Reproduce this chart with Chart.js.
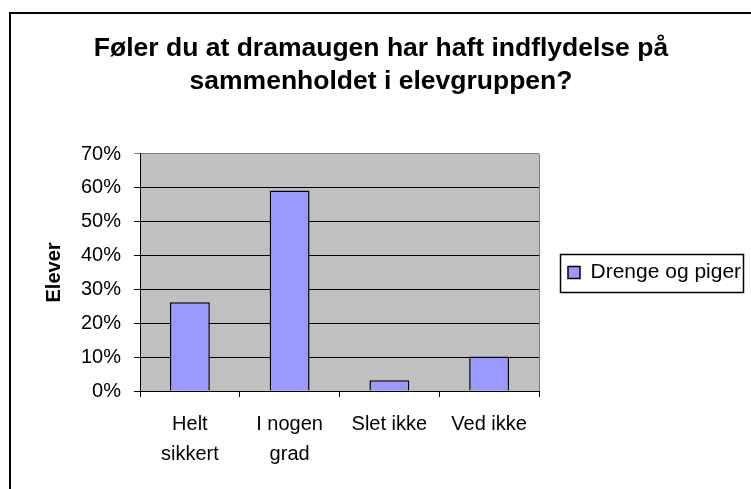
<!DOCTYPE html>
<html>
<head>
<meta charset="utf-8">
<script src="https://cdn.jsdelivr.net/npm/chart.js@4.4.1/dist/chart.umd.min.js"></script>
<style>
  html, body { margin: 0; padding: 0; background: #ffffff; }
  #wrap { position: relative; width: 751px; height: 489px; }
</style>
</head>
<body>
<div id="wrap"><canvas id="c" width="751" height="489"></canvas></div>
<script>
// ---- data ----
const titleLines = ['Føler du at dramaugen har haft indflydelse på', 'sammenholdet i elevgruppen?'];
const categories = [['Helt', 'sikkert'], ['I nogen', 'grad'], 'Slet ikke', 'Ved ikke'];
const seriesName = 'Drenge og piger';
const seriesValues = [26.2, 59.2, 3.2, 10.2];
const yTicks = [0, 10, 20, 30, 40, 50, 60, 70];
const yAxisTitle = 'Elever';

const FONT = "'Liberation Sans', Arial, Helvetica, sans-serif";

const framePlugin = {
  id: 'frameAndBg',
  beforeLayout(chart) {
    const lg = chart.legend;
    if (lg && !lg._fixedFit) {
      const f = lg.fit;
      lg.fit = function () { f.call(this); if (this.options.display) this.width = 212; };
      lg._fixedFit = true;
    }
  },
  beforeDraw(chart) {
    const ctx = chart.ctx;
    const a = chart.chartArea;
    ctx.save();
    ctx.fillStyle = '#ffffff';
    ctx.fillRect(0, 0, chart.width, chart.height);
    // outer frame (top and left visible)
    ctx.fillStyle = '#000000';
    ctx.fillRect(9, 12, 2, chart.height - 12);
    ctx.fillRect(9, 12, chart.width - 9, 2);
    // plot area background
    ctx.fillStyle = '#C0C0C0';
    ctx.fillRect(a.left, a.top, a.right - a.left, a.bottom - a.top);
    ctx.restore();
  },
  afterDraw(chart) {
    const ctx = chart.ctx;
    const a = chart.chartArea;
    ctx.save();
    // plot area right border
    ctx.strokeStyle = '#808080';
    ctx.lineWidth = 1;
    ctx.beginPath();
    ctx.moveTo(a.right + 0.5, a.top);
    ctx.lineTo(a.right + 0.5, a.bottom);
    ctx.stroke();
    // legend border
    const lg = chart.legend;
    if (lg && lg.legendHitBoxes && lg.legendHitBoxes.length) {
      const hb = lg.legendHitBoxes[0];
      const x0 = lg.left + 21, x1 = lg.left + 204;
      const cy = hb.top + hb.height / 2;
      ctx.strokeStyle = '#000000';
      ctx.lineWidth = 1.5;
      ctx.strokeRect(x0 + 0.5, Math.round(cy - 19) + 0.5, x1 - x0, 38);
    }
    ctx.restore();
  }
};

new Chart(document.getElementById('c'), {
  type: 'bar',
  data: {
    labels: categories,
    datasets: [{
      label: seriesName,
      data: seriesValues,
      backgroundColor: '#9999FF',
      borderColor: '#000000',
      borderWidth: 1.5,
      categoryPercentage: 0.8,
      barPercentage: 0.5
    }]
  },
  options: {
    responsive: false,
    devicePixelRatio: 1,
    animation: false,
    layout: { padding: { left: 11, top: 0, right: 0, bottom: 0 } },
    plugins: {
      title: {
        display: true,
        text: titleLines,
        color: '#000000',
        font: { family: FONT, size: 26.5, weight: 'bold', lineHeight: 1.245 },
        padding: { top: 32, bottom: 56 }
      },
      legend: {
        display: true,
        position: 'right',
        align: 'center',
        title: {
          display: true,
          text: ' ',
          font: { family: FONT, size: 10, lineHeight: 1 },
          padding: 23
        },
        labels: {
          color: '#000000',
          font: { family: FONT, size: 21 },
          boxWidth: 12,
          boxHeight: 12,
          padding: 29
        }
      },
      tooltip: { enabled: false }
    },
    scales: {
      x: {
        offset: true,
        grid: {
          offset: true,
          drawOnChartArea: false,
          drawTicks: true,
          tickLength: 6,
          color: '#000000',
          lineWidth: 1
        },
        border: { display: true, color: '#000000', width: 1 },
        ticks: {
          color: '#000000',
          font: { family: FONT, size: 20, lineHeight: 1.5 },
          padding: 12,
          maxRotation: 0,
          autoSkip: false
        },
        afterFit(s) { s.height = 98; }
      },
      y: {
        min: 0,
        max: 70,
        afterBuildTicks(s) { s.ticks = yTicks.map(v => ({ value: v })); },
        grid: {
          drawOnChartArea: true,
          drawTicks: true,
          tickLength: 6,
          color: (c) => (c.tick && c.tick.value === 70 ? '#808080' : '#000000'),
          lineWidth: 1
        },
        border: { display: true, color: '#000000', width: 1 },
        ticks: {
          color: '#000000',
          font: { family: FONT, size: 20 },
          padding: 13,
          callback: (v) => v + '%'
        },
        title: {
          display: true,
          text: yAxisTitle,
          color: '#000000',
          font: { family: FONT, size: 20, weight: 'bold' },
          padding: { top: 31, bottom: 0 }
        },
        afterFit(s) { s.width = 129; }
      }
    }
  },
  plugins: [framePlugin]
});
</script>
</body>
</html>
